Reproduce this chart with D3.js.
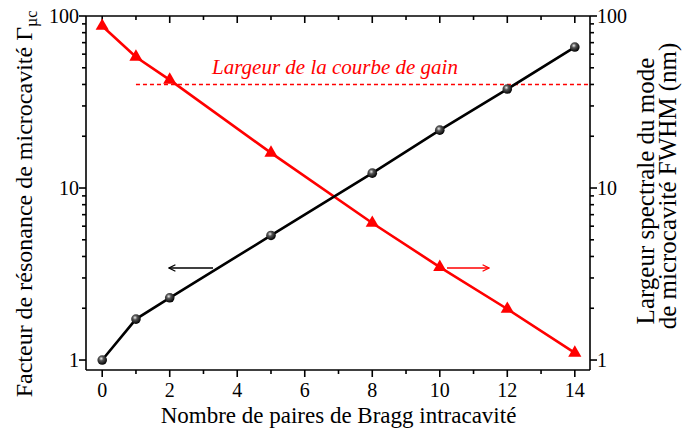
<!DOCTYPE html>
<html>
<head>
<meta charset="utf-8">
<script src="https://cdn.jsdelivr.net/npm/d3@7"></script>
<style>
  html, body { margin: 0; padding: 0; background: #fff; }
  svg { display: block; }
</style>
</head>
<body>
<svg id="chart" width="682" height="434" font-family="'Liberation Serif', 'Times New Roman', Times, 'DejaVu Serif', serif"></svg>
<script>
// Number of intracavity Bragg pairs
const pairs = [0, 1, 2, 5, 8, 10, 12, 14];
// Microcavity resonance factor (left axis)
const gammaMc = [1, 1.73, 2.3, 5.3, 12.2, 21.7, 37.6, 66];
// Spectral width of the microcavity mode, FWHM in nm (right axis)
const fwhm = [87.5, 57.8, 42.5, 16, 6.26, 3.47, 1.98, 1.1];
// Gain curve width (nm), drawn as a dashed reference
const gainWidth = 40;
const gainStart = 1;
const xTicks = [0, 2, 4, 6, 8, 10, 12, 14];
const yTicks = [1, 10, 100];

const svg = d3.select("#chart");
const m = { left: 86, right: 92, top: 16, bottom: 64 };
const W = 682, H = 434;
const x = d3.scaleLinear().domain([-0.48, 14.45]).range([m.left, W - m.right]);
const y = d3.scaleLog().domain([0.875, 100]).range([H - m.bottom, m.top]);

const x0 = x.range()[0], x1 = x.range()[1];
const yb = y.range()[0], yt = y.range()[1];

const minorY = [];
[1, 10].forEach(d => { for (let k = 2; k <= 9; k++) minorY.push(d * k); });
const minorX = d3.range(1, 15, 2);
const allX = d3.range(0, 15);

const axes = svg.append("g").attr("stroke", "#000").attr("stroke-width", 1.6);

// frame
axes.append("line").attr("x1", x0).attr("x2", x1).attr("y1", yb).attr("y2", yb);
axes.append("line").attr("x1", x0).attr("x2", x1).attr("y1", yt).attr("y2", yt);
axes.append("line").attr("x1", x0).attr("x2", x0).attr("y1", yt).attr("y2", yb);
axes.append("line").attr("x1", x1).attr("x2", x1).attr("y1", yt).attr("y2", yb);

// bottom ticks (outward)
axes.selectAll(".bt").data(xTicks).enter().append("line")
  .attr("x1", d => x(d)).attr("x2", d => x(d)).attr("y1", yb).attr("y2", yb + 7);
axes.selectAll(".btm").data(minorX).enter().append("line")
  .attr("x1", d => x(d)).attr("x2", d => x(d)).attr("y1", yb).attr("y2", yb + 4);
// top ticks (inward)
axes.selectAll(".tt").data(allX).enter().append("line")
  .attr("x1", d => x(d)).attr("x2", d => x(d)).attr("y1", yt).attr("y2", d => yt + (d % 2 === 0 ? 7 : 4));

// left and right ticks (outward)
[[x0, -1], [x1, 1]].forEach(([ax, s]) => {
  axes.append("g").selectAll("line").data(yTicks).enter().append("line")
    .attr("x1", ax).attr("x2", ax + s * 7).attr("y1", d => y(d)).attr("y2", d => y(d));
  axes.append("g").selectAll("line").data(minorY).enter().append("line")
    .attr("x1", ax).attr("x2", ax + s * 4).attr("y1", d => y(d)).attr("y2", d => y(d));
});

// tick labels
const fs = 20;
svg.append("g").selectAll("text").data(xTicks).enter().append("text")
  .attr("x", d => x(d)).attr("y", yb + 27).attr("text-anchor", "middle")
  .attr("font-size", fs).text(d => d);
svg.append("g").selectAll("text").data(yTicks).enter().append("text")
  .attr("x", x0 - 7).attr("y", d => y(d) + 7).attr("text-anchor", "end")
  .attr("font-size", fs).text(d => d);
svg.append("g").selectAll("text").data(yTicks).enter().append("text")
  .attr("x", x1 + 7).attr("y", d => y(d) + 7).attr("text-anchor", "start")
  .attr("font-size", fs).text(d => d);

// axis titles
svg.append("text").attr("x", 338.5).attr("y", 423).attr("text-anchor", "middle")
  .attr("font-size", 23).text("Nombre de paires de Bragg intracavité");

const lt = svg.append("text").attr("transform", "translate(32,204) rotate(-90)")
  .attr("text-anchor", "middle").attr("font-size", 24);
lt.append("tspan").text("Facteur de résonance de microcavité Γ");
lt.append("tspan").attr("font-size", 16).attr("dy", 5).text("µc");

svg.append("text").attr("transform", "translate(654,191) rotate(-90)")
  .attr("text-anchor", "middle").attr("font-size", 25).text("Largeur spectrale du mode");
svg.append("text").attr("transform", "translate(676,186) rotate(-90)")
  .attr("text-anchor", "middle").attr("font-size", 25).text("de microcavité FWHM (nm)");

// gain curve width reference
svg.append("line").attr("x1", x(gainStart)).attr("x2", x1)
  .attr("y1", y(gainWidth)).attr("y2", y(gainWidth))
  .attr("stroke", "#ff0000").attr("stroke-width", 1.6).attr("stroke-dasharray", "4,3");
svg.append("text").attr("x", 335).attr("y", 74).attr("text-anchor", "middle")
  .attr("font-size", 21).attr("font-style", "italic").attr("fill", "#ff0000")
  .text("Largeur de la courbe de gain");

// sphere gradient
const defs = svg.append("defs");
const g = defs.append("radialGradient").attr("id", "ball").attr("cx", "40%").attr("cy", "35%").attr("r", "65%");
g.append("stop").attr("offset", "0%").attr("stop-color", "#eee");
g.append("stop").attr("offset", "35%").attr("stop-color", "#555");
g.append("stop").attr("offset", "100%").attr("stop-color", "#000");

const arrowHead = (id, color) => {
  defs.append("marker").attr("id", id).attr("viewBox", "0 0 10 10").attr("refX", 9).attr("refY", 5)
    .attr("markerWidth", 8).attr("markerHeight", 8).attr("markerUnits", "userSpaceOnUse").attr("orient", "auto")
    .append("path").attr("d", "M1,1 L9,5 L1,9").attr("fill", "none").attr("stroke", color).attr("stroke-width", 1.5);
};
arrowHead("ahBlack", "#000");
arrowHead("ahRed", "#ff0000");

const line = d3.line().x(d => x(d[0])).y(d => y(d[1]));

// red series (FWHM)
const redData = pairs.map((p, i) => [p, fwhm[i]]);
svg.append("path").attr("d", line(redData)).attr("fill", "none")
  .attr("stroke", "#ff0000").attr("stroke-width", 2.6);
const tri = d3.symbol().type(d3.symbolTriangle).size(75);
svg.append("g").selectAll("path").data(redData).enter().append("path")
  .attr("d", tri).attr("transform", d => `translate(${x(d[0])},${y(d[1])})`)
  .attr("fill", "#ff0000");

// black series (resonance factor)
const blackData = pairs.map((p, i) => [p, gammaMc[i]]);
svg.append("path").attr("d", line(blackData)).attr("fill", "none")
  .attr("stroke", "#000").attr("stroke-width", 2.6);
svg.append("g").selectAll("circle").data(blackData).enter().append("circle")
  .attr("cx", d => x(d[0])).attr("cy", d => y(d[1])).attr("r", 4.8)
  .attr("fill", "url(#ball)");

// axis indicator arrows
svg.append("line").attr("x1", 213).attr("x2", 169).attr("y1", 268).attr("y2", 268)
  .attr("stroke", "#000").attr("stroke-width", 1.6).attr("marker-end", "url(#ahBlack)");
svg.append("line").attr("x1", 447).attr("x2", 489).attr("y1", 268).attr("y2", 268)
  .attr("stroke", "#ff0000").attr("stroke-width", 1.6).attr("marker-end", "url(#ahRed)");
</script>
</body>
</html>
